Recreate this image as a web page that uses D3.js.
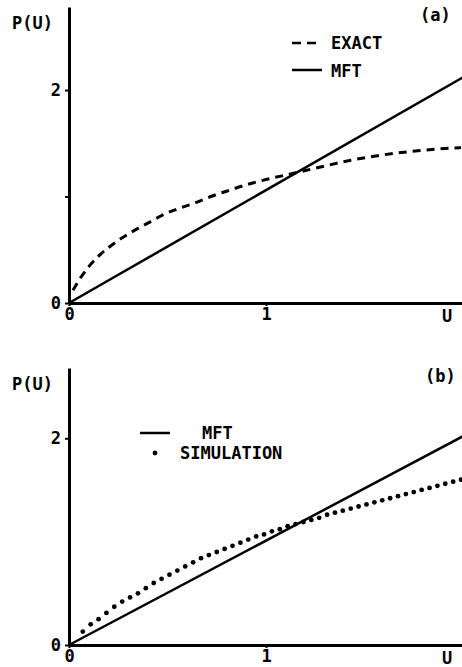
<!DOCTYPE html>
<html>
<head>
<meta charset="utf-8">
<script src="https://cdn.jsdelivr.net/npm/d3@7"></script>
<style>
	body { margin: 0; background: #fff; }
	svg text { font-family: "DejaVu Sans Mono", monospace; font-weight: bold; fill: #000; }
</style>
</head>
<body>
<div id="chart"></div>
<script>
// panel (a): exact solution vs mean field theory
var exactU = [0.02, 0.06, 0.10, 0.15, 0.20, 0.26, 0.33, 0.40, 0.48, 0.56, 0.64, 0.72, 0.80, 0.90, 1.00, 1.12, 1.26, 1.43, 1.59, 1.77, 1.99];
var exactP = [0.12, 0.24, 0.34, 0.44, 0.52, 0.60, 0.68, 0.75, 0.83, 0.89, 0.94, 1.00, 1.05, 1.11, 1.16, 1.21, 1.27, 1.34, 1.39, 1.43, 1.46];
var mftU_a = [0, 2.0];
var mftP_a = [0, 2.12];

// panel (b): simulation vs mean field theory
var simU = [0.07, 0.11, 0.15, 0.19, 0.23, 0.27, 0.31, 0.35, 0.39, 0.43, 0.47, 0.51, 0.55, 0.59, 0.63,
	0.67, 0.71, 0.75, 0.79, 0.83, 0.87, 0.91, 0.95, 0.99, 1.03, 1.07, 1.11, 1.15, 1.19, 1.23, 1.27,
	1.31, 1.35, 1.39, 1.43, 1.47, 1.51, 1.55, 1.59, 1.63, 1.67, 1.71, 1.75, 1.79, 1.83, 1.87, 1.91, 1.95, 1.99];
var simP = [0.13, 0.20, 0.25, 0.31, 0.37, 0.42, 0.46, 0.50, 0.55, 0.60, 0.64, 0.68, 0.72, 0.76, 0.80,
	0.84, 0.87, 0.90, 0.93, 0.96, 0.99, 1.02, 1.05, 1.07, 1.10, 1.12, 1.15, 1.17, 1.19, 1.21, 1.23,
	1.26, 1.28, 1.30, 1.32, 1.34, 1.36, 1.38, 1.40, 1.42, 1.44, 1.46, 1.48, 1.50, 1.52, 1.54, 1.56, 1.58, 1.60];
var mftU_b = [0, 2.0];
var mftP_b = [0, 2.02];

var xTicks = [0, 1];
var xTickLabels = ['0', '1'];

var W = 462, H = 667;
var FS = 17;

var svg = d3.select('#chart').append('svg')
	.attr('width', W)
	.attr('height', H);

function zip(us, ps){
	return us.map(function(u, i){ return [u, ps[i]]; });
}

function drawPanel(opts){
	var g = svg.append('g');

	var x = d3.scaleLinear().domain([0, 2]).range([69, 463]);
	var y = d3.scaleLinear().domain([0, opts.yMax]).range([opts.y0, opts.yTop]);

	// y axis
	var yAxis = d3.axisLeft(y)
		.tickValues(opts.yTicks)
		.tickSize(4)
		.tickSizeOuter(0)
		.tickFormat(function(d){ return opts.yLabelled.indexOf(d) >= 0 ? String(d) : ''; });
	var ya = g.append('g').attr('transform', 'translate(69,0)').call(yAxis);
	ya.select('.domain').attr('stroke-width', 3);
	ya.selectAll('.tick line').attr('stroke-width', 2);
	ya.selectAll('.tick text').attr('font-size', FS).attr('dx', -1)
		.style('font-family', '"DejaVu Sans Mono", monospace').style('font-weight', 'bold');

	// x axis
	var xAxis = d3.axisBottom(x)
		.tickValues(xTicks)
		.tickSize(3)
		.tickSizeOuter(0)
		.tickFormat(function(d, i){ return xTickLabels[i]; });
	var xa = g.append('g').attr('transform', 'translate(0,' + opts.y0 + ')').call(xAxis);
	xa.select('.domain').attr('stroke-width', 3);
	xa.selectAll('.tick line').attr('stroke-width', 2);
	xa.selectAll('.tick text').attr('font-size', FS).attr('y', 5)
		.style('font-family', '"DejaVu Sans Mono", monospace').style('font-weight', 'bold');

	g.append('text')
		.attr('x', 447).attr('y', opts.y0 + 19)
		.attr('text-anchor', 'middle')
		.attr('font-size', FS)
		.text('U');

	g.append('text')
		.attr('x', 12).attr('y', opts.yTop + 22)
		.attr('font-size', FS)
		.text('P(U)');

	g.append('text')
		.attr('x', opts.tagX).attr('y', opts.yTop + 14)
		.attr('font-size', FS)
		.text(opts.tag);

	var line = d3.line()
		.x(function(d){ return x(d[0]); })
		.y(function(d){ return y(d[1]); })
		.curve(d3.curveMonotoneX);

	g.append('path')
		.datum(zip(opts.mftU, opts.mftP))
		.attr('d', line)
		.attr('fill', 'none')
		.attr('stroke', '#000')
		.attr('stroke-width', 2.5);

	if (opts.exactU) {
		g.append('path')
			.datum(zip(opts.exactU, opts.exactP))
			.attr('d', line)
			.attr('fill', 'none')
			.attr('stroke', '#000')
			.attr('stroke-width', 3)
			.attr('stroke-dasharray', '8,6');
	}

	if (opts.simU) {
		g.selectAll('circle.sim')
			.data(zip(opts.simU, opts.simP))
			.enter()
			.append('circle')
			.attr('class', 'sim')
			.attr('cx', function(d){ return x(d[0]); })
			.attr('cy', function(d){ return y(d[1]); })
			.attr('r', 2.4)
			.attr('fill', '#000');
	}

	return g;
}

// (a)
var ga = drawPanel({
	y0: 303, yTop: 7, yMax: 2.78,
	yTicks: [0, 1, 2], yLabelled: [0, 2],
	tag: '(a)', tagX: 420,
	mftU: mftU_a, mftP: mftP_a,
	exactU: exactU, exactP: exactP
});

// legend (a)
ga.append('line')
	.attr('x1', 292).attr('x2', 322).attr('y1', 43).attr('y2', 43)
	.attr('stroke', '#000').attr('stroke-width', 2.5).attr('stroke-dasharray', '9,6');
ga.append('text').attr('x', 331).attr('y', 49).attr('font-size', FS).text('EXACT');
ga.append('line')
	.attr('x1', 292).attr('x2', 322).attr('y1', 70).attr('y2', 70)
	.attr('stroke', '#000').attr('stroke-width', 2.5);
ga.append('text').attr('x', 331).attr('y', 77).attr('font-size', FS).text('MFT');

// (b)
var gb = drawPanel({
	y0: 645, yTop: 368, yMax: 2.68,
	yTicks: [0, 2], yLabelled: [0, 2],
	tag: '(b)', tagX: 425,
	mftU: mftU_b, mftP: mftP_b,
	simU: simU, simP: simP
});

// legend (b)
gb.append('line')
	.attr('x1', 140).attr('x2', 170).attr('y1', 433).attr('y2', 433)
	.attr('stroke', '#000').attr('stroke-width', 2.5);
gb.append('text').attr('x', 202).attr('y', 439).attr('font-size', FS).text('MFT');
gb.append('circle').attr('cx', 155).attr('cy', 453).attr('r', 2.4).attr('fill', '#000');
gb.append('text').attr('x', 180).attr('y', 459).attr('font-size', FS).text('SIMULATION');
</script>
</body>
</html>
